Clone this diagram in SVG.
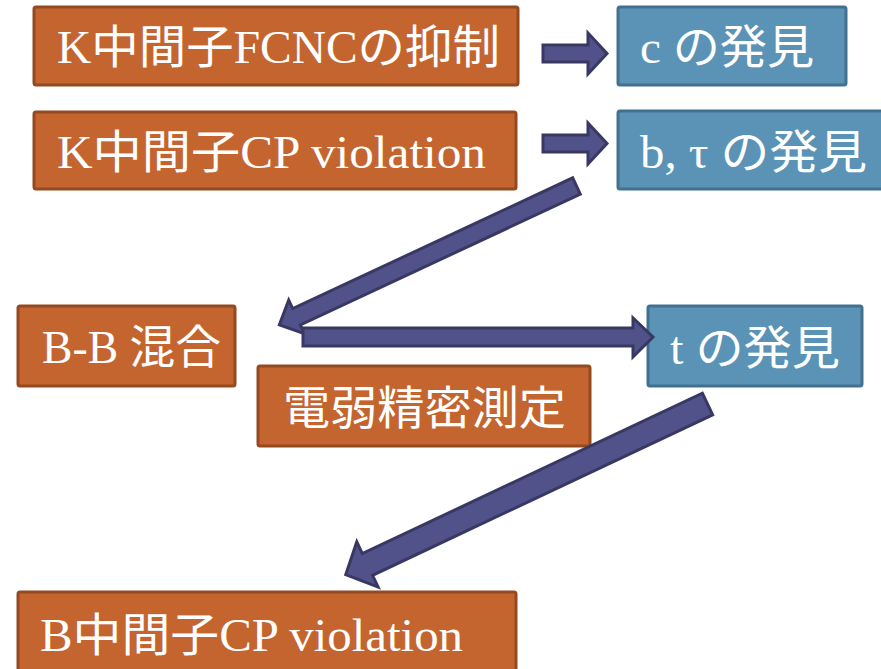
<svg xmlns="http://www.w3.org/2000/svg" width="881" height="669" viewBox="0 0 881 669">
<style>
.o{fill:#C4652F;stroke:#95491E;stroke-width:3}
.b{fill:#5B93B6;stroke:#42708F;stroke-width:3}
.t{fill:#ffffff;font-family:"Liberation Serif","Noto Sans CJK JP",serif;font-size:46px}
.a{fill:#52528A;stroke:#383863;stroke-width:3;stroke-linejoin:miter}
</style>
<rect width="881" height="669" fill="#ffffff"/>
<g id="k-fcnc"><rect class="o" x="34" y="7" width="484" height="78" rx="2"/><text class="t" x="57" y="63" textLength="443" lengthAdjust="spacingAndGlyphs">K中間子FCNCの抑制</text></g>
<g id="k-cp"><rect class="o" x="34" y="112" width="482" height="77" rx="2"/><text class="t" x="57" y="168" textLength="429" lengthAdjust="spacingAndGlyphs">K中間子CP violation</text></g>
<g id="c-disc"><rect class="b" x="618" y="7" width="228" height="78" rx="2"/><text class="t" x="640" y="63" textLength="174" lengthAdjust="spacingAndGlyphs">c の発見</text></g>
<g id="b-tau-disc"><rect class="b" x="618" y="111" width="270" height="78" rx="2"/><text class="t" x="640" y="168" textLength="227" lengthAdjust="spacingAndGlyphs">b, τ の発見</text></g>
<g id="bb-mix"><rect class="o" x="18" y="306" width="217" height="80" rx="2"/><text class="t" x="42" y="363" textLength="179" lengthAdjust="spacingAndGlyphs">B-B 混合</text></g>
<g id="ew"><rect class="o" x="258" y="366" width="332" height="80" rx="2"/><text class="t" x="283" y="424" textLength="283" lengthAdjust="spacingAndGlyphs">電弱精密測定</text></g>
<g id="t-disc"><rect class="b" x="648" y="306" width="214" height="80" rx="2"/><text class="t" x="670" y="364" textLength="170" lengthAdjust="spacingAndGlyphs">t の発見</text></g>
<g id="b-cp"><rect class="o" x="18" y="592" width="498" height="90" rx="2"/><text class="t" x="40" y="651" textLength="423" lengthAdjust="spacingAndGlyphs">B中間子CP violation</text></g>
<g id="connectors">
<polygon class="a" points="543,45 588,45 588,33 607,53.5 588,74 588,62 543,62"/>
<polygon class="a" points="543,135 588,135 588,123 607,143.5 588,164 588,152 543,152"/>
<polygon class="a" transform="translate(576.5,186) rotate(154.96)" points="0,-9 309,-9 309,-18.5 328,0 309,18.5 309,9 0,9"/>
<polygon class="a" points="303,328 633,328 633,318 653,337 633,357 633,346 303,346"/>
<polygon class="a" transform="translate(707.5,404) rotate(154.74)" points="0,-12 376,-12 376,-25 400,0 376,25 376,12 0,12"/>
</g>
</svg>
